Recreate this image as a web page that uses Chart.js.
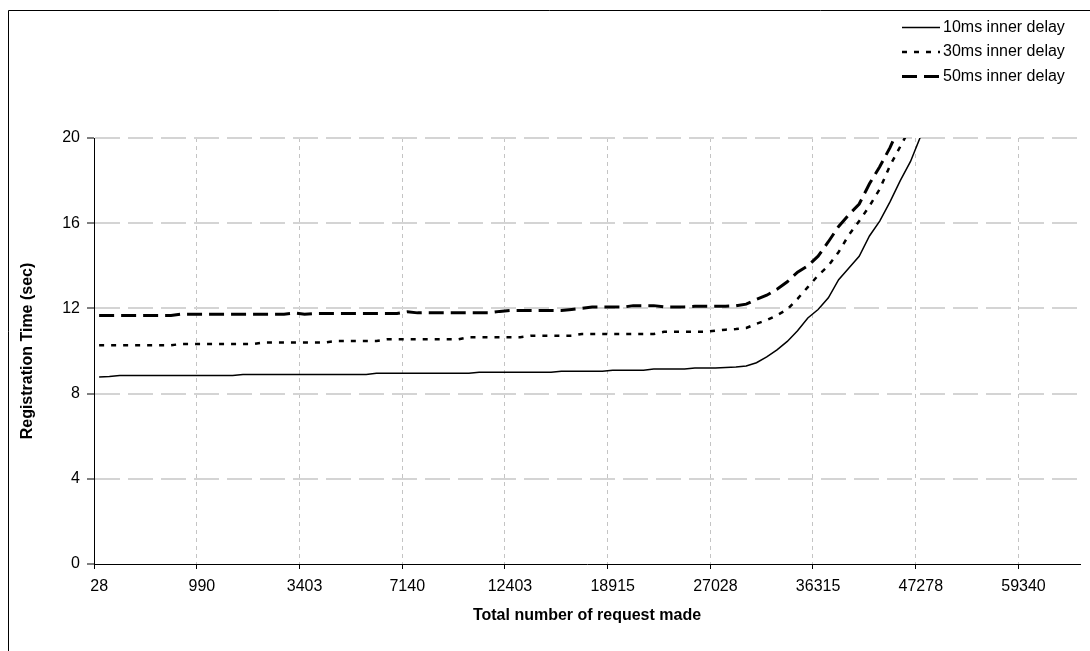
<!DOCTYPE html>
<html>
<head>
<meta charset="utf-8">
<script src="https://cdn.jsdelivr.net/npm/chart.js@4.4.0/dist/chart.umd.min.js"></script>
<style>
  body { margin: 0; background: #fff; }
  #wrap { width: 1090px; height: 651px; }
</style>
</head>
<body>
<div id="wrap"><canvas id="myChart" width="1090" height="651"></canvas></div>
<script>
// tick labels on the category axis, one every 10 points
const tickLabels = ['28', '990', '3403', '7140', '12403', '18915', '27028', '36315', '47278', '59340'];
const pointCount = 96;

const seriesNames = ['10ms inner delay', '30ms inner delay', '50ms inner delay'];

const delay10 = [
  8.78, 8.80, 8.85, 8.85, 8.85, 8.85, 8.85, 8.85, 8.85, 8.85,
  8.85, 8.85, 8.85, 8.85, 8.90, 8.90, 8.90, 8.90, 8.90, 8.90,
  8.90, 8.90, 8.90, 8.90, 8.90, 8.90, 8.90, 8.95, 8.95, 8.95,
  8.95, 8.95, 8.95, 8.95, 8.95, 8.95, 8.95, 9.00, 9.00, 9.00,
  9.00, 9.00, 9.00, 9.00, 9.00, 9.05, 9.05, 9.05, 9.05, 9.05,
  9.10, 9.10, 9.10, 9.10, 9.15, 9.15, 9.15, 9.15, 9.20, 9.20,
  9.20, 9.22, 9.25, 9.30, 9.45, 9.72, 10.05, 10.45, 10.95, 11.55,
  11.95, 12.5, 13.35, 13.9, 14.45, 15.4, 16.1, 17.0, 18.0, 18.9,
  20.1, 21.3, null, null, null, null, null, null, null, null,
  null, null, null, null, null, null
];

const delay30 = [
  10.27, 10.27, 10.27, 10.27, 10.27, 10.27, 10.27, 10.27, 10.33, 10.33,
  10.33, 10.33, 10.33, 10.33, 10.33, 10.33, 10.40, 10.40, 10.40, 10.40,
  10.40, 10.40, 10.40, 10.47, 10.47, 10.47, 10.47, 10.47, 10.55, 10.55,
  10.55, 10.55, 10.55, 10.55, 10.55, 10.55, 10.65, 10.65, 10.65, 10.65,
  10.65, 10.65, 10.72, 10.72, 10.72, 10.72, 10.72, 10.80, 10.80, 10.80,
  10.80, 10.80, 10.80, 10.80, 10.80, 10.90, 10.90, 10.90, 10.90, 10.90,
  10.95, 11.0, 11.03, 11.08, 11.28, 11.45, 11.68, 11.95, 12.45, 13.0,
  13.55, 14.0, 14.65, 15.45, 16.1, 16.8, 17.6, 18.7, 19.6, 20.5,
  null, null, null, null, null, null, null, null, null, null,
  null, null, null, null, null, null
];

const delay50 = [
  11.67, 11.67, 11.67, 11.67, 11.67, 11.67, 11.67, 11.67, 11.73, 11.73,
  11.73, 11.73, 11.73, 11.73, 11.73, 11.73, 11.73, 11.73, 11.73, 11.78,
  11.73, 11.76, 11.76, 11.76, 11.76, 11.76, 11.76, 11.76, 11.76, 11.76,
  11.84, 11.79, 11.80, 11.80, 11.80, 11.80, 11.80, 11.80, 11.80, 11.86,
  11.90, 11.90, 11.90, 11.90, 11.90, 11.90, 11.95, 12.0, 12.06, 12.06,
  12.06, 12.06, 12.13, 12.13, 12.13, 12.07, 12.07, 12.07, 12.10, 12.10,
  12.10, 12.10, 12.12, 12.2, 12.42, 12.62, 12.9, 13.25, 13.7, 14.0,
  14.45, 15.13, 15.85, 16.4, 16.9, 17.85, 18.65, 19.55, 20.6, null,
  null, null, null, null, null, null, null, null, null, null,
  null, null, null, null, null, null
];

const yTicks = [0, 4, 8, 12, 16, 20];

// category list: label only on every 10th point
const categories = [];
for (let i = 0; i < pointCount; i++) {
    categories.push(i % 10 === 0 ? tickLabels[i / 10] : '');
}

const FONT = "'Liberation Sans', Arial, sans-serif";

// frame round the whole chart (cut off at right/bottom like the original)
const frame = {
    id: 'frame',
    beforeDraw(chart){
        const ctx = chart.ctx;
        ctx.save();
        ctx.fillStyle = '#fff';
        ctx.fillRect(0, 0, chart.width, chart.height);
        ctx.strokeStyle = '#000';
        ctx.lineWidth = 1;
        ctx.beginPath();
        ctx.moveTo(8.5, chart.height + 5);
        ctx.lineTo(8.5, 10.5);
        ctx.lineTo(chart.width + 5, 10.5);
        ctx.stroke();
        ctx.restore();
    }
}

// legend stacked in the top right corner, above the plot
const cornerLegend = {
    id: 'cornerLegend',
    afterDraw(chart){
        const ctx = chart.ctx;
        ctx.save();
        chart.data.datasets.forEach((ds, i) =>{
            const y = 27.5 + i * 24.5;
            ctx.strokeStyle = ds.borderColor;
            ctx.lineWidth = ds.borderWidth;
            ctx.setLineDash(ds.borderDash || []);
            ctx.beginPath();
            ctx.moveTo(902, y);
            ctx.lineTo(940, y);
            ctx.stroke();
            ctx.setLineDash([]);
            ctx.fillStyle = '#000';
            ctx.font = '16px ' + FONT;
            ctx.textBaseline = 'middle';
            ctx.fillText(ds.label, 943, y);
        });
        ctx.restore();
    }
}

new Chart(document.getElementById('myChart'), {
    type: 'line',
    data: {
        labels: categories,
        datasets: [
            {
                label: seriesNames[0],
                data: delay10,
                borderColor: '#000',
                borderWidth: 1.5,
                borderDash: [],
            },
            {
                label: seriesNames[1],
                data: delay30,
                borderColor: '#000',
                borderWidth: 2.5,
                borderDash: [5, 7],
            },
            {
                label: seriesNames[2],
                data: delay50,
                borderColor: '#000',
                borderWidth: 3,
                borderDash: [15, 7],
            }
        ]
    },
    options: {
        responsive: false,
        animation: false,
        clip: 0,
        elements: {
            point: { radius: 0 },
            line: { tension: 0, fill: false }
        },
        layout: {
            padding: { top: 138, right: 10, left: 0, bottom: 0 }
        },
        plugins: {
            legend: { display: false },
            tooltip: { enabled: false }
        },
        scales: {
            x: {
                type: 'category',
                offset: true,
                afterFit: (scale) => { scale.height = 87; },
                grid: {
                    offset: true,
                    lineWidth: 1,
                    color: (c) => (c.index % 10 === 0 && c.index > 0) ? '#c4c4c4' : 'transparent',
                    tickColor: (c) => c.index % 10 === 0 ? '#000' : 'transparent',
                    tickLength: 5,
                    tickWidth: 1,
                },
                border: { color: '#000', width: 1, dash: [4, 4] },
                ticks: {
                    autoSkip: false,
                    maxRotation: 0,
                    padding: 8,
                    color: '#000',
                    font: { family: FONT, size: 16 },
                },
                title: {
                    display: true,
                    text: 'Total number of request made',
                    color: '#000',
                    font: { family: FONT, size: 16, weight: 'bold' },
                    padding: { top: 0, bottom: 26 }
                }
            },
            y: {
                min: 0,
                max: 20,
                afterFit: (scale) => { scale.width = 94; },
                afterBuildTicks: (scale) => { scale.ticks = yTicks.map(v => ({ value: v })); },
                grid: {
                    lineWidth: 2,
                    color: (c) => c.index === 0 ? 'transparent' : '#d4d4d4',
                    tickColor: '#000',
                    tickLength: 7,
                    tickWidth: 1,
                },
                border: { color: '#000', width: 1, dash: [25, 8] },
                ticks: {
                    padding: 7,
                    color: '#000',
                    font: { family: FONT, size: 16 },
                },
                title: {
                    display: true,
                    text: 'Registration Time (sec)',
                    color: '#000',
                    font: { family: FONT, size: 16, weight: 'bold' },
                    padding: { top: 18, bottom: 0 }
                }
            }
        }
    },
    plugins: [frame, cornerLegend]
});
</script>
</body>
</html>
